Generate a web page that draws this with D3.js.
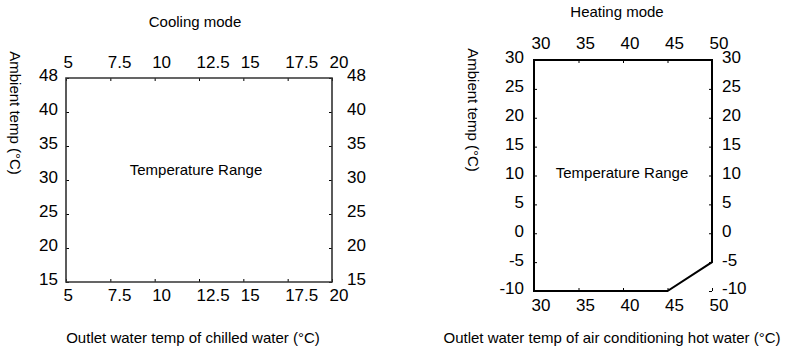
<!DOCTYPE html>
<html>
<head>
<meta charset="utf-8">
<script src="https://cdn.jsdelivr.net/npm/d3@7"></script>
<style>
  body { margin: 0; background: #fff; }
  svg { display: block; font-family: "Liberation Sans", Arial, sans-serif; }
</style>
</head>
<body>
<svg id="chart" width="789" height="349"></svg>
<script>
// ---- Data ----
const coolingXTicks = [5, 7.5, 10, 12.5, 15, 17.5, 20];
const coolingYLabels = ["15", "20", "25", "30", "35", "40", "48"];
const coolingXRange = [5, 20];
// Cooling operating range (outlet water temp, ambient temp label)
const coolingRangeX = [5, 20, 20, 5];
const coolingRangeY = ["48", "48", "15", "15"];

const heatingXTicks = [30, 35, 40, 45, 50];
const heatingYTicks = [-10, -5, 0, 5, 10, 15, 20, 25, 30];
const heatingXRange = [30, 50];
const heatingYRange = [-10, 30];
// Heating operating range polygon
const heatingRangeX = [30, 50, 50, 45, 30];
const heatingRangeY = [30, 30, -5, -10, -10];

const titles = ["Cooling mode", "Heating mode"];
const xTitles = ["Outlet water temp of chilled water (°C)", "Outlet water temp of air conditioning hot water (°C)"];
const yTitle = "Ambient temp (°C)";
const rangeLabel = "Temperature Range";

const svg = d3.select("#chart");
const tickFont = 17;

function styleTicks(g) {
  g.select(".domain").remove();
  g.selectAll(".tick line").attr("stroke", "#000").attr("stroke-width", 1);
  g.selectAll(".tick text").attr("font-size", tickFont).attr("fill", "#000")
    .attr("font-family", "Liberation Sans, Arial, sans-serif");
}

function drawPanel(opt) {
  const g = svg.append("g");
  const { x, y, left, right, top, bottom } = opt;

  // axes with inward ticks
  const gt = g.append("g").attr("transform", `translate(0,${top})`)
    .call(d3.axisTop(x).tickValues(opt.xTicks).tickSizeInner(-3).tickSizeOuter(0).tickFormat(d => d));
  styleTicks(gt);
  gt.selectAll(".tick text").attr("text-anchor", "start").attr("x", -3).attr("y", opt.topLabelDy).attr("dy", "0.35em");

  const gb = g.append("g").attr("transform", `translate(0,${bottom})`)
    .call(d3.axisBottom(x).tickValues(opt.xTicks).tickSizeInner(-3).tickSizeOuter(0).tickFormat(d => d));
  styleTicks(gb);
  gb.selectAll(".tick text").attr("text-anchor", "start").attr("x", -3).attr("y", opt.bottomLabelDy).attr("dy", "0.35em");

  const gl = g.append("g").attr("transform", `translate(${left},0)`)
    .call(d3.axisLeft(y).tickValues(opt.yTicks).tickSizeInner(-3).tickSizeOuter(0).tickFormat(d => d));
  styleTicks(gl);
  gl.selectAll(".tick text").attr("text-anchor", "end").attr("x", opt.leftLabelDx).attr("y", -3).attr("dy", "0.35em");

  const gr = g.append("g").attr("transform", `translate(${right},0)`)
    .call(d3.axisRight(y).tickValues(opt.yTicks).tickSizeInner(-3).tickSizeOuter(0).tickFormat(d => d));
  styleTicks(gr);
  gr.selectAll(".tick text").attr("text-anchor", "start").attr("x", opt.rightLabelDx).attr("y", -3).attr("dy", "0.35em");

  // hide ticks at corners that coincide with frame
  [gt, gb, gl, gr].forEach(a => a.selectAll(".tick line").filter(opt.hideTick).remove());

  // range polygon
  const pts = opt.rx.map((v, i) => [x(v), y(opt.ry[i])]);
  g.append("path")
    .attr("d", d3.line()(pts) + "Z")
    .attr("fill", "none")
    .attr("stroke", opt.stroke)
    .attr("stroke-width", opt.strokeWidth)
    .attr("stroke-linejoin", "miter");

  g.append("text").attr("x", opt.labelX).attr("y", opt.labelY).attr("dy", "0.35em")
    .attr("text-anchor", "middle").attr("font-size", 15).text(rangeLabel);

  g.append("text").attr("x", opt.titleX).attr("y", opt.titleY).attr("dy", "0.35em")
    .attr("text-anchor", "middle").attr("font-size", 15).text(opt.title);

  g.append("text").attr("x", opt.xTitleX).attr("y", 338).attr("dy", "0.35em")
    .attr("text-anchor", "middle").attr("font-size", 15).text(opt.xTitle);

  g.append("text").attr("transform", `translate(${opt.yTitleX},${opt.yTitleY}) rotate(90)`)
    .attr("dy", "0.35em").attr("text-anchor", "middle").attr("font-size", 15).text(yTitle);
}

// Cooling panel
{
  const left = 66, right = 332, top = 78, bottom = 282;
  const x = d3.scaleLinear().domain(coolingXRange).range([left, right]);
  const y = d3.scalePoint().domain(coolingYLabels).range([bottom, top]);
  drawPanel({
    x, y, left, right, top, bottom,
    xTicks: coolingXTicks, yTicks: coolingYLabels,
    rx: coolingRangeX, ry: coolingRangeY,
    stroke: "#333", strokeWidth: 1.6,
    topLabelDy: -16, bottomLabelDy: 13, leftLabelDx: -8, rightLabelDx: 15,
    hideTick: function() { return false; },
    labelX: 196, labelY: 170,
    title: titles[0], titleX: 195, titleY: 22,
    xTitle: xTitles[0], xTitleX: 193,
    yTitleX: 15, yTitleY: 113
  });
}

// Heating panel
{
  const left = 534, right = 712, top = 60, bottom = 291;
  const x = d3.scaleLinear().domain(heatingXRange).range([left, right]);
  const y = d3.scaleLinear().domain(heatingYRange).range([bottom, top]);
  drawPanel({
    x, y, left, right, top, bottom,
    xTicks: heatingXTicks, yTicks: heatingYTicks,
    rx: heatingRangeX, ry: heatingRangeY,
    stroke: "#000", strokeWidth: 2,
    topLabelDy: -17, bottomLabelDy: 14, leftLabelDx: -10, rightLabelDx: 10,
    hideTick: function() { return false; },
    labelX: 622, labelY: 173,
    title: titles[1], titleX: 617, titleY: 12,
    xTitle: xTitles[1], xTitleX: 612,
    yTitleX: 473, yTitleY: 110
  });
}
</script>
</body>
</html>
